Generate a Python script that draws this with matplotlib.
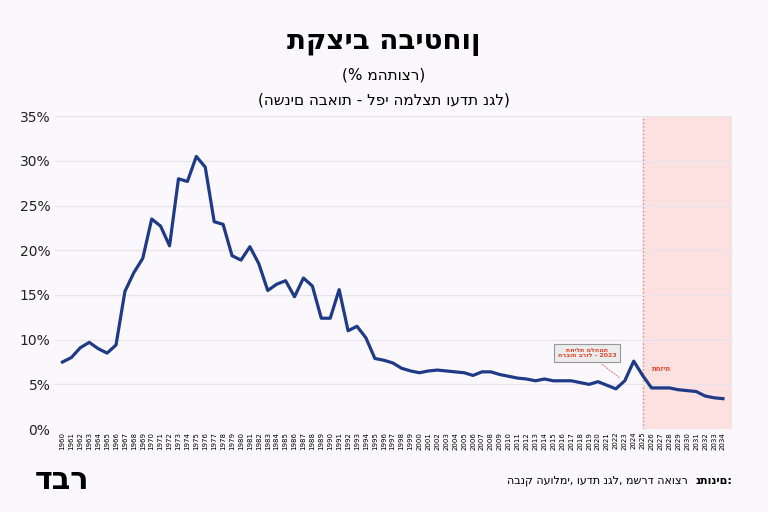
import matplotlib
matplotlib.use("Agg")
import matplotlib.pyplot as plt
from matplotlib.ticker import FuncFormatter

years = list(range(1960, 2035))
values = [7.5, 8.0, 9.1, 9.7, 9.0, 8.5, 9.4, 15.4, 17.5, 19.1,
          23.5, 22.7, 20.5, 28.0, 27.7, 30.5, 29.3, 23.2, 22.9, 19.4,
          18.9, 20.4, 18.5, 15.5, 16.2, 16.6, 14.8, 16.9, 16.0, 12.4,
          12.4, 15.6, 11.0, 11.5, 10.2, 7.9, 7.7, 7.4, 6.8, 6.5,
          6.3, 6.5, 6.6, 6.5, 6.4, 6.3, 6.0, 6.4, 6.4, 6.1,
          5.9, 5.7, 5.6, 5.4, 5.6, 5.4, 5.4, 5.4, 5.2, 5.0,
          5.3, 4.9, 4.5, 5.4, 7.6, 6.0, 4.6, 4.6, 4.6, 4.4,
          4.3, 4.2, 3.7, 3.5, 3.4]
yticks = [0, 5, 10, 15, 20, 25, 30, 35]

title = "תקציב הביטחון"
sub1 = "(% מהתוצר)"
sub2 = "(השנים הבאות - לפי המלצת ועדת נגל)"
src_bold = "נתונים:"
src_rest = "הבנק העולמי, ועדת נגל, משרד האוצר"
ann = "תחילת מלחמת\nחרבות ברזל - 2023"
fc_label = "תחזית"
logo = "דבר"

bg = "#FAF8FC"
fig = plt.figure(figsize=(7.68, 5.12), dpi=100, facecolor=bg)
ax = fig.add_axes([0.072, 0.162, 0.881, 0.611], facecolor=bg)
plt.rcParams['font.family'] = ['DejaVu Sans']

ax.axvspan(2025, 2035, color="#FDE1E1", zorder=0)
ax.axvline(2025, color="#F08080", ls=":", lw=1, zorder=1)
ax.plot(years, values, color="#1F3A87", lw=2.3, zorder=3)
ax.set_xlim(1959.2, 2035)
ax.set_ylim(0, 35)
ax.set_yticks(yticks)
ax.yaxis.set_major_formatter(FuncFormatter(lambda v, p: f"{int(v)}%"))
ax.set_xticks(years)
ax.set_xticklabels([str(y) for y in years], rotation=90, fontsize=5)
ax.tick_params(axis='y', labelsize=10, length=0, colors="#222222")
ax.tick_params(axis='x', length=0, pad=2)
ax.grid(axis='y', color="#E6E4EA", lw=0.8)
for s in ax.spines.values():
    s.set_visible(False)

ax.annotate(ann, xy=(2022.6, 5.6), xytext=(2018.8, 8.5), fontsize=4.5,
            color="#E8472E", fontweight='bold', ha='center', va='center',
            bbox=dict(boxstyle='square,pad=0.6', fc="#ECECEC", ec="#999999", lw=0.8),
            arrowprops=dict(arrowstyle='-', ls=':', color="#F08080", lw=0.8))
ax.text(2026, 6.5, fc_label, fontsize=5, color="#E8472E", fontweight='bold')

fig.text(0.5, 0.905, title, ha='center', fontsize=20, fontweight='bold')
fig.text(0.5, 0.845, sub1, ha='center', fontsize=11)
fig.text(0.5, 0.795, sub2, ha='center', fontsize=11)
fig.text(0.045, 0.045, logo, fontsize=22, fontweight='bold')
fig.text(0.953, 0.055, src_bold, ha='right', fontsize=8, fontweight='bold')
fig.text(0.895, 0.055, src_rest, ha='right', fontsize=8)
fig.savefig("out.png", dpi=100, facecolor=bg)
